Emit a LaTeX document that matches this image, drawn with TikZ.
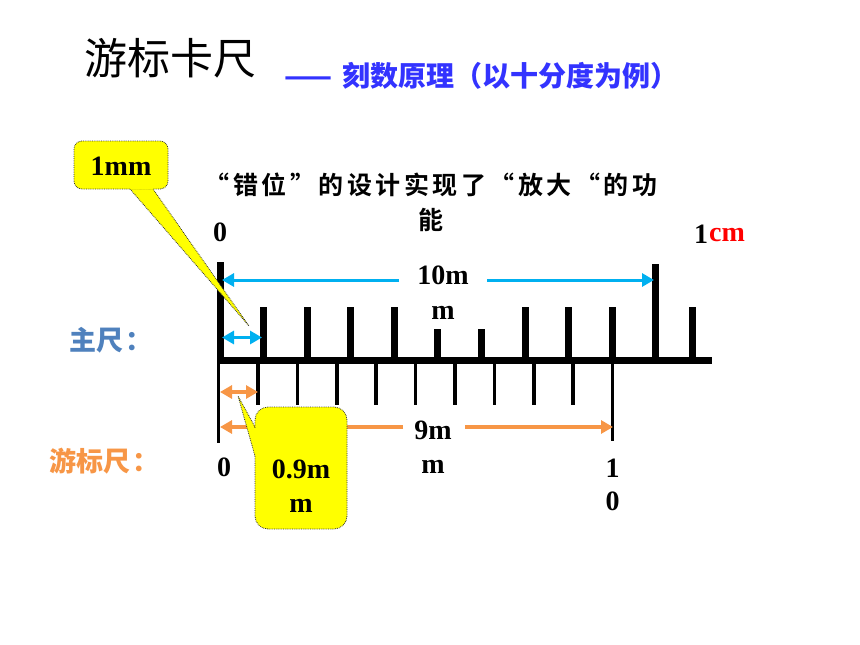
\documentclass[tikz,border=0pt]{standalone}
\usepackage{fontspec}
\setmainfont{Liberation Serif}
\newfontfamily\cjk{Noto Sans CJK SC}
\newfontfamily\cjkbold[BoldFont={Noto Sans CJK SC Bold},LetterSpace=14]{Noto Sans CJK SC}
\usetikzlibrary{arrows.meta}
\definecolor{bluearrow}{HTML}{00B0F0}
\definecolor{orangearrow}{HTML}{F79646}
\definecolor{mainblue}{HTML}{4F81BD}
\definecolor{subblue}{HTML}{3333FF}
\definecolor{calloutyellow}{RGB}{255,255,0}
\tikzset{
  numlabel/.style={font=\fontsize{28}{30}\selectfont\bfseries,inner sep=0pt,align=center},
  thick tick/.style={line width=7pt,black},
  thin tick/.style={line width=3.8pt,black},
  blue dim/.style={line width=3pt,bluearrow,-{Triangle[length=12pt,width=13pt]}},
  blue dimboth/.style={line width=3pt,bluearrow,{Triangle[length=12pt,width=13pt]}-{Triangle[length=12pt,width=13pt]}},
  orange dim/.style={line width=3.5pt,orangearrow,-{Triangle[length=12pt,width=13pt]}},
  orange dimboth/.style={line width=3.5pt,orangearrow,{Triangle[length=12pt,width=13pt]}-{Triangle[length=12pt,width=13pt]}},
  callout/.style={fill=calloutyellow,draw=black!80,densely dotted,line width=0.8pt,line join=round}
}
\begin{document}
\begin{tikzpicture}[x=1pt,y=-1pt]
\useasboundingbox (0,0) rectangle (860,645);
% main scale
\draw[thick tick] (217,360) -- (711.5,360);
\draw[thick tick] (220,262) -- (220,360);
\foreach \x in {263.5,307,350.5,394,525,568.5,612,692.7}
  \draw[thick tick] (\x,307) -- (\x,360);
\foreach \x in {437.7,481}
  \draw[thick tick] (\x,329) -- (\x,360);
\draw[thick tick] (655.7,264) -- (655.7,360);
% vernier scale
\foreach \x in {258,297.5,337,376,415.5,455,494.5,534,573}
  \draw[thin tick] (\x,360) -- (\x,405);
\draw[thin tick] (218.5,360) -- (218.5,443);
\draw[thin tick] (612.5,360) -- (612.5,441);
% dimension ends
\coordinate (ba) at (222,280); \coordinate (bb) at (399,280);
\coordinate (bc) at (487,280); \coordinate (bd) at (654,280);
\coordinate (be) at (222,337.5); \coordinate (bf) at (262,337.5);
\coordinate (oa) at (220,392); \coordinate (ob) at (258,392);
\coordinate (oc) at (220,427); \coordinate (od) at (403,427);
\coordinate (oe) at (465,427); \coordinate (of) at (613,427);
\draw[blue dim] (bb) -- (ba);
\draw[blue dim] (bc) -- (bd);
\draw[blue dimboth] (be) -- (bf);
\draw[orange dimboth] (oa) -- (ob);
\draw[orange dim] (od) -- (oc);
\draw[orange dim] (oe) -- (of);
% callouts
\draw[callout] (130,189) -- (249,326) -- (153,189) -- cycle;
\draw[callout,rounded corners=8pt] (74,141) rectangle (168,189);
\fill[calloutyellow] (131,186) -- (152,186) -- (153.5,189.5) -- (130.5,189.5) -- cycle;
\draw[callout] (255,427) -- (238,396) -- (255,456) -- cycle;
\draw[callout,rounded corners=13pt] (255,407) rectangle (347,529);
\fill[calloutyellow] (252,428) -- (256,428) -- (256,456) -- (254,452) -- cycle;
% texts
\node[inner sep=0pt,anchor=west,font=\fontsize{43}{48}\selectfont\cjk] (title) at (84,58) {游标卡尺};
\node[inner sep=0pt,anchor=west,text=subblue,font=\fontsize{28}{32}\selectfont\cjk\bfseries] (sub) at (284,76) {——\hspace{10pt}刻数原理（以十分度为例）};
\node[inner sep=0pt,text=mainblue,font=\fontsize{27}{30}\selectfont\cjk\bfseries,anchor=west] (mainlab) at (69,340) {主尺\hspace{2pt}：};
\node[inner sep=0pt,text=orangearrow,font=\fontsize{27}{30}\selectfont\cjk\bfseries,anchor=west] (verlab) at (49,461) {游标尺\hspace{2pt}：};
\node[inner sep=0pt,anchor=center,font=\fontsize{25}{35}\selectfont\cjkbold\bfseries,align=center] (note) at (431,202) {“错位”的设计实现了“放大“的功\\能\hspace{10pt}};
\node[numlabel] (z1) at (220,232) {0};
\node[numlabel] (one) at (701,234) {1};
\node[numlabel,text=red] (cm) at (727,235) {cm};
\node[numlabel,font=\fontsize{28}{35}\selectfont\bfseries] (ten) at (443,293) {10m\\m};
\node[numlabel,font=\fontsize{28}{34}\selectfont\bfseries] (nine) at (433,447) {9m\\m};
\node[numlabel] (z2) at (224,467) {0};
\node[numlabel,font=\fontsize{28}{33}\selectfont\bfseries] (ten2) at (612.5,485) {1\\0};
\node[numlabel,font=\fontsize{28}{34}\selectfont\bfseries] (nn) at (301,486) {0.9m\\m};
\node[numlabel] (mm) at (121,166) {1mm};
\end{tikzpicture}
\end{document}
